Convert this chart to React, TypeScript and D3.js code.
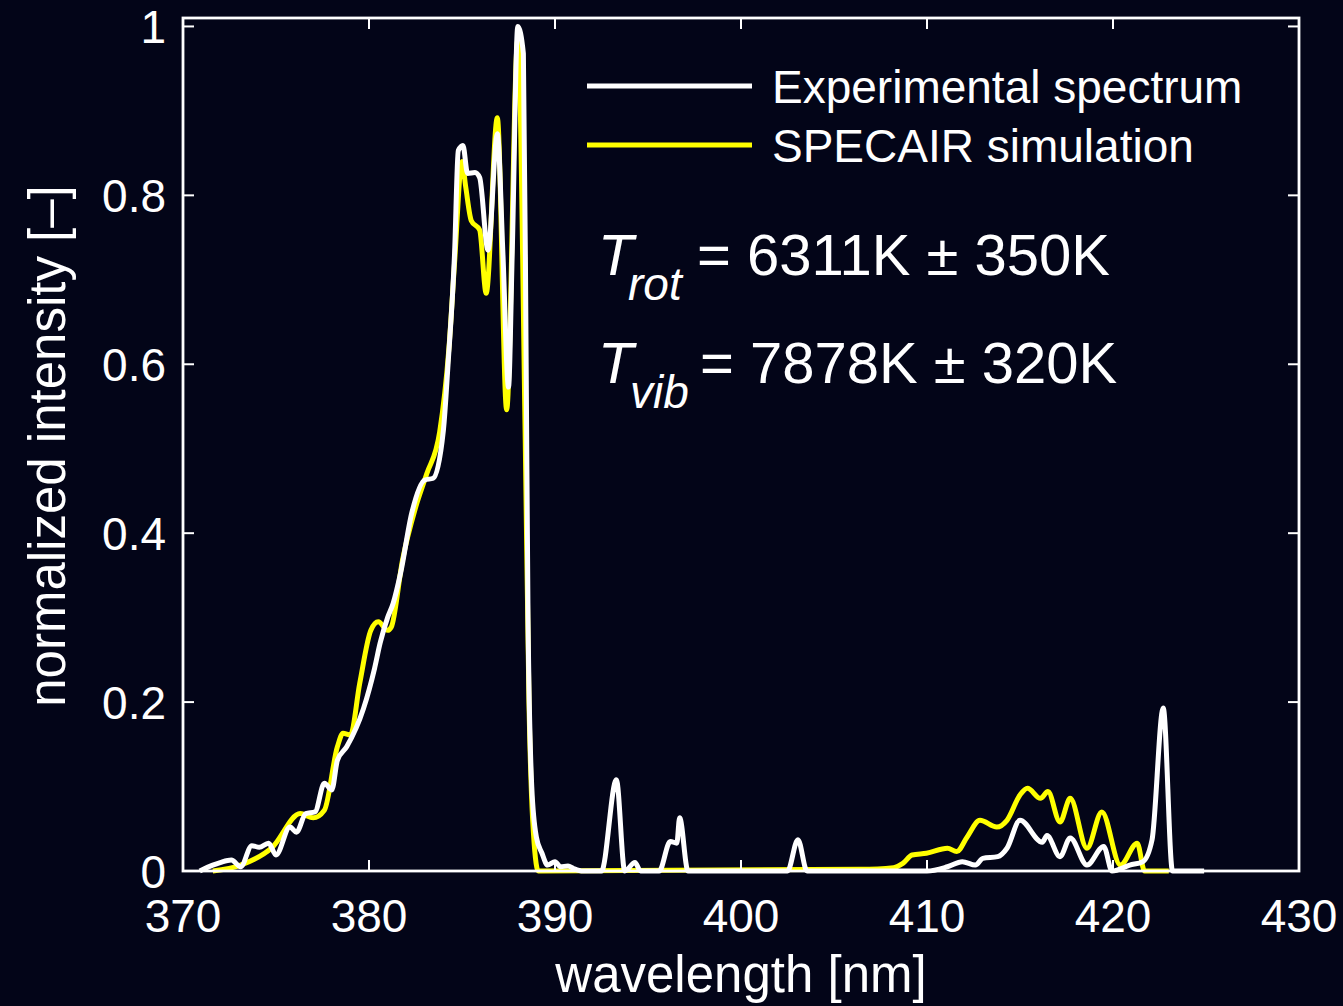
import React from 'react';
import * as d3 from 'd3';

// experimental spectrum (white)
const expWavelength = [
  370.9, 371.6, 372.0, 372.6, 373.1, 373.7, 374.1, 374.6, 375.0, 375.75, 376.1, 376.6, 377.1, 377.6, 378.0,
  378.3, 378.8, 379.7, 380.3, 380.6, 381.0, 381.3, 381.7, 382.3, 383.0, 383.45, 384.0, 384.25, 384.6, 384.8,
  385.05, 385.3, 385.7, 385.95, 386.4, 386.9, 387.2, 387.5, 387.7, 388.0, 388.3, 388.45, 388.55, 388.75, 389.0,
  389.3, 389.6, 390.0, 390.3, 390.7, 391.0, 391.5, 392.5, 393.3, 393.75, 394.3, 394.6, 395.6, 396.2, 396.55,
  396.7, 397.15, 402.5, 403.06, 403.55, 410.0, 411.1, 411.9, 412.6, 413.0, 413.8, 414.3, 415.0, 416.2, 416.45,
  417.15, 417.7, 418.6, 419.5, 419.95, 420.9, 421.6, 422.1, 422.7, 423.2, 424.9,
];
const expIntensity = [
  0.0, 0.007, 0.01, 0.013, 0.005, 0.03, 0.028, 0.033, 0.019, 0.052, 0.046, 0.068, 0.07, 0.104, 0.096,
  0.131, 0.147, 0.192, 0.24, 0.27, 0.3, 0.317, 0.353, 0.424, 0.463, 0.465, 0.522, 0.6, 0.731, 0.853,
  0.859, 0.826, 0.827, 0.821, 0.735, 0.873, 0.731, 0.573, 0.731, 1.0, 0.968, 0.6, 0.3, 0.1, 0.04,
  0.021, 0.007, 0.011, 0.005, 0.006, 0.003, 0.0, 0.0, 0.108, 0.0, 0.01, 0.0, 0.0, 0.035, 0.033,
  0.063, 0.0, 0.0, 0.037, 0.0, 0.0, 0.005, 0.011, 0.007, 0.015, 0.017, 0.027, 0.06, 0.034, 0.042,
  0.017, 0.039, 0.007, 0.029, 0.0, 0.007, 0.011, 0.037, 0.193, 0.0, 0.0,
];

// SPECAIR simulation (yellow)
const simWavelength = [
  371.6, 373.1, 374.8, 376.3, 377.0, 377.6, 378.3, 378.6, 379.0, 379.5, 380.1, 380.5, 381.0, 381.2, 381.8,
  382.5, 383.1, 383.8, 384.3, 384.6, 385.0, 385.2, 385.5, 385.95, 386.3, 386.9, 387.4, 388.0, 388.4, 388.6,
  388.8, 389.1, 406.4, 408.2, 408.7, 409.2, 409.97, 411.1, 411.6, 412.15, 412.85, 413.75, 414.3, 415.0, 415.4,
  416.1, 416.5, 417.15, 417.7, 418.6, 419.4, 420.4, 421.3, 421.7, 423.0,
];
const simIntensity = [
  0.0, 0.007, 0.028, 0.068, 0.063, 0.072, 0.147, 0.163, 0.161, 0.222, 0.285, 0.295, 0.285, 0.289, 0.368,
  0.43, 0.47, 0.52, 0.62, 0.72, 0.84, 0.81, 0.77, 0.759, 0.684, 0.892, 0.546, 0.985, 0.51, 0.2,
  0.06, 0.0, 0.002, 0.004, 0.009, 0.019, 0.021, 0.027, 0.023, 0.04, 0.06, 0.052, 0.06, 0.09, 0.098,
  0.086, 0.094, 0.058, 0.086, 0.027, 0.07, 0.007, 0.033, 0.0, 0.0,
];

const xTicks = [370, 380, 390, 400, 410, 420, 430];
const yTicks = [0, 0.2, 0.4, 0.6, 0.8, 1];
const yTickLabels = ['0', '0.2', '0.4', '0.6', '0.8', '1'];

const W = 1343;
const H = 1006;
const BG = '#030518';
const FONT = '"Liberation Sans", Arial, Helvetica, sans-serif';

export default function App() {
  const x = d3.scaleLinear().domain([370, 430]).range([183, 1299]);
  const y = d3.scaleLinear().domain([0, 1.01]).range([871, 18]);

  const line = d3.line<[number, number]>()
    .x(d => x(d[0]))
    .y(d => y(d[1]))
    .curve(d3.curveMonotoneX);

  const expPath = line(expWavelength.map((w, i) => [w, expIntensity[i]])) || '';
  const simPath = line(simWavelength.map((w, i) => [w, simIntensity[i]])) || '';

  const [x0, x1] = x.range();
  const [y0, y1] = y.range();
  const tickLen = 11;

  return (
    <svg width={W} height={H} style={{ position: 'absolute', left: 0, top: 0, background: BG }} fontFamily={FONT}>
      <rect x={0} y={0} width={W} height={H} fill={BG} />

      {/* data */}
      <path d={simPath} fill="none" stroke="#ffff00" strokeWidth={5} strokeLinejoin="round" />
      <path d={expPath} fill="none" stroke="#ffffff" strokeWidth={5} strokeLinejoin="round" />

      {/* ticks, inward on all four sides */}
      <g stroke="#fff" strokeWidth={2}>
        {xTicks.map(t => (
          <g key={'xt' + t}>
            <line x1={x(t)} x2={x(t)} y1={y0} y2={y0 - tickLen} />
            <line x1={x(t)} x2={x(t)} y1={y1} y2={y1 + tickLen} />
          </g>
        ))}
        {yTicks.map(t => (
          <g key={'yt' + t}>
            <line x1={x0} x2={x0 + tickLen} y1={y(t)} y2={y(t)} />
            <line x1={x1} x2={x1 - tickLen} y1={y(t)} y2={y(t)} />
          </g>
        ))}
      </g>

      {/* frame */}
      <rect x={x0} y={y1} width={x1 - x0} height={y0 - y1} fill="none" stroke="#fff" strokeWidth={2.8} />

      {/* tick labels */}
      <g fill="#fff" fontSize={46}>
        {xTicks.map(t => (
          <text key={'xl' + t} x={x(t)} y={932} textAnchor="middle">{t}</text>
        ))}
        {yTicks.map((t, i) => (
          <text key={'yl' + t} x={166} y={y(t)} dy="0.36em" textAnchor="end">{yTickLabels[i]}</text>
        ))}
      </g>

      {/* axis labels */}
      <text x={741} y={992} fill="#fff" fontSize={51} textAnchor="middle">wavelength [nm]</text>
      <text transform="translate(65,446) rotate(-90)" fill="#fff" fontSize={51} textAnchor="middle">
        normalized intensity [–]
      </text>

      {/* legend */}
      <line x1={587} x2={752} y1={86} y2={86} stroke="#fff" strokeWidth={5} />
      <text x={772} y={103} fill="#fff" fontSize={46}>Experimental spectrum</text>
      <line x1={587} x2={752} y1={145} y2={145} stroke="#ffff00" strokeWidth={5} />
      <text x={772} y={162} fill="#fff" fontSize={46}>SPECAIR simulation</text>

      {/* temperatures */}
      <g fill="#fff">
        <text x={598} y={275} fontSize={58} fontStyle="italic">T</text>
        <text x={628} y={300} fontSize={46} fontStyle="italic">rot</text>
        <text x={697} y={275} fontSize={58}>= 6311K ± 350K</text>
        <text x={598} y={383} fontSize={58} fontStyle="italic">T</text>
        <text x={630} y={408} fontSize={46} fontStyle="italic">vib</text>
        <text x={700} y={383} fontSize={58}>= 7878K ± 320K</text>
      </g>
    </svg>
  );
}
